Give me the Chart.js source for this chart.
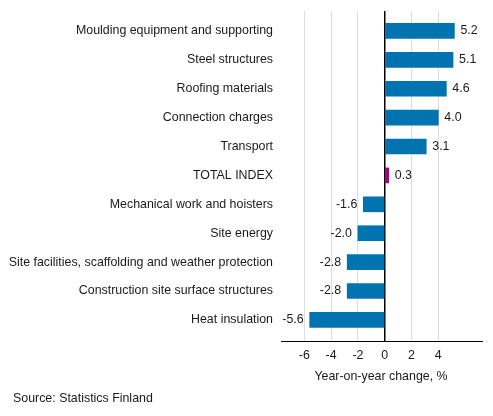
<!DOCTYPE html>
<html>
<head>
<meta charset="utf-8">
<script src="https://cdn.jsdelivr.net/npm/chart.js@4"></script>
<style>
  html, body { margin: 0; padding: 0; background: #fff; }
  #wrap { width: 493px; height: 416px; position: relative; }
</style>
</head>
<body>
<div id="wrap"><canvas id="chart"></canvas></div>
<script>
/* Building cost index, year-on-year change by component */

const categories = [
  'Moulding equipment and supporting',
  'Steel structures',
  'Roofing materials',
  'Connection charges',
  'Transport',
  'TOTAL INDEX',
  'Mechanical work and hoisters',
  'Site energy',
  'Site facilities, scaffolding and weather protection',
  'Construction site surface structures',
  'Heat insulation',
];
const changes = [5.2, 5.1, 4.6, 4.0, 3.1, 0.3, -1.6, -2.0, -2.8, -2.8, -5.6];
const xTicks = [-6, -4, -2, 0, 2, 4];

const FONT = 'Liberation Sans, Arial, sans-serif';
const FSIZE = 12.4;
const BLUE = '#0073b0';
const PURPLE = '#a5007e';

// Value labels beside each bar end, and the footer texts.
const labelsPlugin = {
  id: 'valueLabels',
  afterDatasetsDraw(chart) {
    const ctx = chart.ctx;
    ctx.save();
    ctx.font = FSIZE + 'px ' + FONT;
    ctx.fillStyle = '#1a1a1a';
    ctx.textBaseline = 'middle';
    chart.getDatasetMeta(0).data.forEach((bar, i) => {
      const v = changes[i];
      ctx.textAlign = v < 0 ? 'right' : 'left';
      ctx.fillText(v.toFixed(1), bar.x + (v < 0 ? -6 : 6), bar.y);
    });
    ctx.textAlign = 'center';
    ctx.fillText('Year-on-year change, %', 381, 377);
    ctx.textAlign = 'left';
    ctx.fillText('Source: Statistics Finland', 13, 399);
    ctx.restore();
  },
};

new Chart(document.getElementById('chart'), {
  type: 'bar',
  data: {
    datasets: [{
      data: changes.map((v, i) => ({ x: v, y: i })),
      backgroundColor: categories.map((c) => (c === 'TOTAL INDEX' ? PURPLE : BLUE)),
      barThickness: 15,
    }],
  },
  options: {
    indexAxis: 'y',
    responsive: true,
    maintainAspectRatio: false,
    animation: false,
    layout: { padding: { top: 11, right: 11, left: 0, bottom: 0 } },
    plugins: { legend: { display: false }, tooltip: { enabled: false } },
    scales: {
      x: {
        type: 'linear',
        min: -7.74,
        max: 7.26,
        afterBuildTicks: (s) => { s.ticks = xTicks.map((v) => ({ value: v })); },
        afterFit: (s) => { s.height = 75; s.paddingLeft = 0; s.paddingRight = 0; },
        grid: {
          drawTicks: false,
          color: (c) => (c.tick && c.tick.value === 0 ? '#000' : '#dcdcdc'),
          lineWidth: (c) => (c.tick && c.tick.value === 0 ? 1.5 : 1),
        },
        border: { display: true, color: '#000', width: 1 },
        ticks: { padding: 7, color: '#1a1a1a', font: { family: FONT, size: FSIZE } },
      },
      y: {
        type: 'linear',
        reverse: true,
        offset: false,
        grace: 0,
        min: -0.69,
        max: 10.73,
        afterBuildTicks: (s) => { s.ticks = categories.map((c, i) => ({ value: i })); },
        // labels sit well inside the range, so no edge padding is needed
        afterFit: (s) => { s.width = 281; s.paddingTop = 0; s.paddingBottom = 0; },
        grid: { display: false, drawTicks: false },
        border: { display: false },
        ticks: {
          autoSkip: false,
          padding: 8,
          color: '#1a1a1a',
          font: { family: FONT, size: FSIZE },
          callback: (v) => categories[v],
        },
      },
    },
  },
  plugins: [labelsPlugin],
});
</script>
</body>
</html>
